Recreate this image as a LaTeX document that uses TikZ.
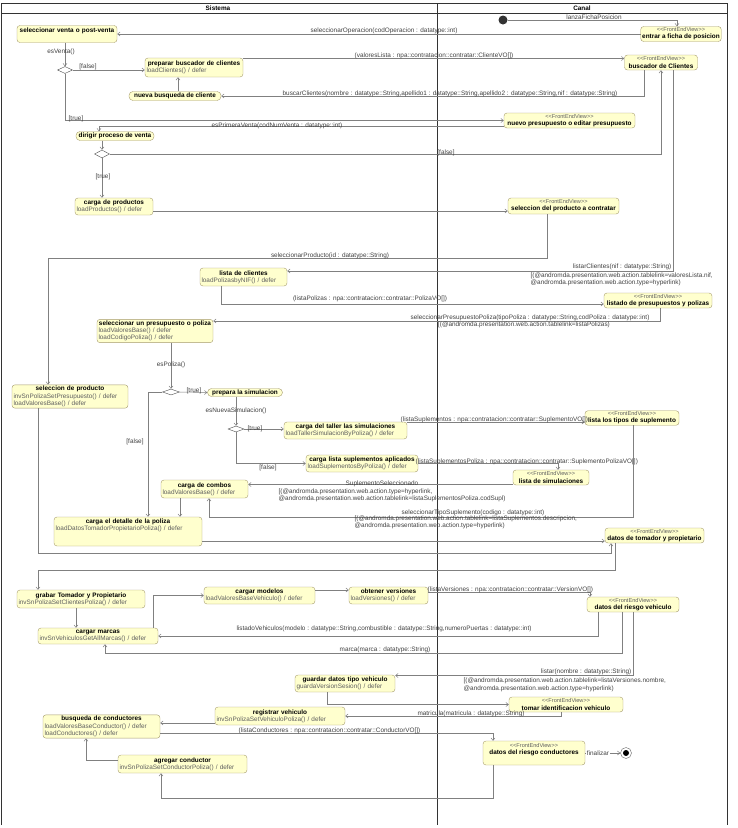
\documentclass[tikz,border=0pt]{standalone}
\usepackage{fontspec}
\newfontfamily\umlfont{Liberation Sans}
\usetikzlibrary{shapes.geometric,arrows.meta}
\definecolor{boxfill}{RGB}{255,255,206}
\definecolor{boxline}{RGB}{165,155,110}
\definecolor{linegray}{RGB}{128,128,128}
\definecolor{optext}{RGB}{95,95,95}
\begin{document}
\begin{tikzpicture}[x=1pt,y=-1pt,
  every node/.style={font=\umlfont\fontsize{6.4}{7.2}\selectfont},
  accion/.style={draw=boxline,fill=boxfill,rounded corners=3pt,inner sep=1.5pt},
  pill/.style={accion,rounded corners=4pt,inner ysep=1pt,font=\umlfont\bfseries\fontsize{6.4}{7.2}\selectfont},
  vista/.style={accion,align=center,inner ysep=1pt},
  decision/.style={diamond,draw=black!70,fill=white,inner sep=0pt},
  inicio/.style={circle,fill=black!80,minimum size=9pt,inner sep=0pt},
  fin/.style={circle,draw=black!60,fill=white,minimum size=11pt,inner sep=0pt,
    path picture={\fill[black] (path picture bounding box.center) circle (3pt);}},
  flow/.style={draw=linegray,line width=0.5pt,-{Straight Barb[length=2.5pt,width=4pt]}},
  lbl/.style={text=black!75,inner sep=0.5pt},
  lane/.style={draw=black!80,line width=0.9pt}]
\useasboundingbox (0,0) rectangle (737,828);
\newcommand\accion[6]{
\node[accion,text width=#3pt,minimum height=#4pt] (#1) at (#2) {{\centering\bfseries #5\par}\raggedright\color{optext}#6};
}
\newcommand\vista[5]{
\node[vista,minimum width=#3pt,minimum height=#4pt] (#1) at (#2) {{\fontsize{5.6}{6}\selectfont\color{optext}<<FrontEndView>>}\\\textbf{#5}};
}
% calles
\path[lane] (1.5,825) -- (1.5,3) -- (727,3) -- (727,825);
\path[lane] (437,3) -- (437,825);
\path[lane] (1.5,13) -- (727,13);
\node[font=\umlfont\bfseries\fontsize{6.4}{7}\selectfont] (sistema) at (218,8) {Sistema};
\node[font=\umlfont\bfseries\fontsize{6.4}{7}\selectfont] (canal) at (582,8) {Canal};
% Sistema
\accion{venta}{67,34}{97}{17}{seleccionar venta o post-venta}{\mbox{}}
\accion{prepbus}{194,67.5}{95}{19}{preparar buscador de clientes}{loadClientes() / defer}
\node[pill,minimum width=92pt,minimum height=9pt] (nuevabus) at (175,96) {nueva busqueda de cliente};
\node[pill,minimum width=78pt,minimum height=9pt] (dirigir) at (115,136) {dirigir proceso de venta};
\accion{productos}{114,206.5}{75}{17}{carga de productos}{loadProductos() / defer}
\accion{listacli}{243.5,277}{84}{18}{lista de clientes}{loadPolizasbyNIF() / defer}
\accion{selpres}{155,331}{113}{22}{seleccionar un presupuesto o poliza}{loadValoresBase() / defer\par loadCodigoPoliza() / defer}
\accion{selprod}{70,396.5}{113}{23}{seleccion de producto}{invSnPolizaSetPresupuesto() / defer\par loadValoresBase() / defer}
\node[pill,minimum width=75pt,minimum height=8pt] (prepsim) at (245,392.5) {prepara la simulacion};
\accion{taller}{345.5,430.5}{120}{17}{carga del taller las simulaciones}{loadTallerSimulacionByPoliza() / defer}
\accion{suplem}{362,463.5}{109}{17}{carga lista suplementos aplicados}{loadSuplementosByPoliza() / defer}
\accion{combos}{204.5,489}{84}{18}{carga de combos}{loadValoresBase() / defer}
\accion{detalle}{128,531.5}{145}{29}{carga el detalle de la poliza}{loadDatosTomadorPropietarioPoliza() / defer\rule[-13pt]{0pt}{13pt}}
\accion{grabar}{81,599}{125}{18}{grabar Tomador y Propietario}{invSnPolizaSetClientesPoliza() / defer}
\accion{marcas}{98,636}{117}{16}{cargar marcas}{invSnVehiculosGetAllMarcas() / defer}
\accion{modelos}{259.5,595.5}{108}{17}{cargar modelos}{loadValoresBaseVehiculo() / defer}
\accion{versiones}{388.5,595.5}{76}{17}{obtener versiones}{loadVersiones() / defer}
\accion{guardar}{345,683.5}{97}{17}{guardar datos tipo vehiculo}{guardaVersionSesion() / defer}
\accion{registrar}{280,716}{127}{18}{registrar vehiculo}{invSnPolizaSetVehiculoPoliza() / defer}
\accion{conduct}{101.5,726.5}{114}{23}{busqueda de conductores}{loadValoresBaseConductor() / defer\par loadConductores() / defer}
\accion{agregar}{182.5,764}{126}{18}{agregar conductor}{invSnPolizaSetConductorPoliza() / defer}
\node[decision,minimum width=15pt,minimum height=7pt] (d1) at (65,70) {};
\node[decision,minimum width=15pt,minimum height=8pt] (d2) at (102,154) {};
\node[decision,minimum width=17pt,minimum height=6pt] (d3) at (171,392) {};
\node[decision,minimum width=16pt,minimum height=6pt] (d4) at (236,429) {};
% Canal
\node[inicio] (init) at (503,20) {};
\vista{ficha}{681,34}{80}{15}{entrar a ficha de posicion}
\vista{buscador}{661,62.5}{73}{15}{buscador de Clientes}
\vista{nuevopres}{569.5,120.5}{131}{15}{nuevo presupuesto o editar presupuesto}
\vista{selcontr}{563.5,206}{111}{16}{seleccion del producto a contratar}
\vista{listado}{658,300.5}{108}{15}{listado de presupuestos y polizas}
\vista{tipos}{632,418}{94}{14}{lista los tipos de suplemento}
\vista{simul}{551,477.5}{76}{15}{lista de simulaciones}
\vista{tomador}{654.5,535.5}{99}{15}{datos de tomador y propietario}
\vista{riesgoveh}{633,604.5}{92}{15}{datos del riesgo vehiculo}
\vista{tomar}{566,704.5}{114}{15}{tomar identificacion vehiculo}
\node[vista,minimum width=102pt,minimum height=24pt] (riesgocon) at (534,753) {{\fontsize{5.6}{6}\selectfont\color{optext}<<FrontEndView>>}\\\textbf{datos del riesgo conductores}\rule[-8pt]{0pt}{8pt}};
\node[fin] (fin) at (626,753) {};
% transiciones
\path[flow] (init) -| ([xshift=-4pt]ficha.north);
\node[lbl] (lb1) at (594,17.5) {lanzaFichaPosicion};
\path[flow] (ficha.west) -- (venta.east);
\node[lbl] (lb2) at (384,30.5) {seleccionarOperacion(codOperacion : datatype::int)};
\path[flow] (venta.south -| d1) -- (d1.north);
\node[lbl] (lb3) at (61,52) {esVenta()};
\path[flow] (d1.east) -- (d1.east -| prepbus.west);
\node[lbl] (lb4) at (88,66.5) {[false]};
\path[flow] ([xshift=3pt]nuevabus.north) -- ([xshift=3pt]nuevabus.north |- prepbus.south);
\path[flow] ([yshift=9pt]prepbus.east) -- ([yshift=9pt]prepbus.east -| buscador.west);
\node[lbl] (lb5) at (434,56) {(valoresLista : npa::contratacion::contratar::ClienteVO[])};
\path[flow] ([xshift=-17pt]buscador.south) |- (nuevabus.east);
\node[lbl] (lb6) at (450,93.5) {buscarClientes(nombre : datatype::String,apellido1 : datatype::String,apellido2 : datatype::String,nif : datatype::String)};
\path[flow] (d1.south) |- (nuevopres.west);
\node[lbl] (lb7) at (76,118.5) {[true]};
\path[flow] ([yshift=-6pt]nuevopres.west) -| ([xshift=-16pt]dirigir.north);
\node[lbl] (lb8) at (277,125.5) {esPrimeraVenta(codNumVenta : datatype::int)};
\path[flow] (dirigir.south -| d2) -- (d2.north);
\path[flow] (d2.east) -| (buscador.south);
\node[lbl] (lb9) at (446,152.5) {[false]};
\path[flow] (d2.south) -- (d2.south |- productos.north);
\node[lbl] (lb10) at (103,177) {[true]};
\path[flow] ([yshift=-4.5pt]productos.east) -- ([yshift=-4.5pt]productos.east -| selcontr.west);
\coordinate (c1) at (48,258);
\path[flow] ([xshift=-16.5pt]selcontr.south) |- (c1) -- (c1 |- selprod.north);
\node[lbl] (lb11) at (330,255.5) {seleccionarProducto(id : datatype::String)};
\path[flow] ([xshift=12pt]buscador.south) |- ([yshift=6pt]listacli.east);
\node[lbl,anchor=east] (lb12) at (672,266.5) {listarClientes(nif : datatype::String)};
\node[lbl,anchor=north west,align=left] (lb13) at (530,272) {[(@andromda.presentation.web.action.tablelink=valoresLista.nif,\\@andromda.presentation.web.action.type=hyperlink)};
\path[flow] ([xshift=-22.5pt]listacli.south) |- ([yshift=-3.5pt]listado.west);
\node[lbl] (lb14) at (370,298.5) {(listaPolizas : npa::contratacion::contratar::PolizaVO[])};
\path[flow] ([xshift=2pt]listado.south) |- ([yshift=10pt]selpres.east);
\node[lbl] (lb15) at (530,317.5) {seleccionarPresupuestoPoliza(tipoPoliza : datatype::String,codPoliza : datatype::int)};
\node[lbl] (lb16) at (524,325) {[(@andromda.presentation.web.action.tablelink=listaPolizas)};
\path[flow] ([xshift=16pt]selpres.south) -- (d3.north);
\node[lbl] (lb17) at (171,365) {esPoliza()};
\path[flow] (d3.east) -- (prepsim.west);
\node[lbl] (lb18) at (194,391) {[true]};
\path[flow] (d3.west) -| ([xshift=20pt]detalle.north);
\node[lbl] (lb19) at (135,442) {[false]};
\path[flow] ([xshift=-9pt]prepsim.south) -- (d4.north);
\node[lbl] (lb20) at (236,410.5) {esNuevaSimulacion()};
\path[flow] (d4.east) -- (d4.east -| taller.west);
\node[lbl] (lb21) at (255,428.5) {[true]};
\path[flow] (d4.south) |- (suplem.west);
\node[lbl] (lb22) at (268,468) {[false]};
\path[flow] ([yshift=8.5pt]taller.east) -- ([yshift=8.5pt]taller.east -| tipos.west);
\node[lbl,anchor=west] (lb23) at (400,420) {(listaSuplementos : npa::contratacion::contratar::SuplementoVO[])};
\path[flow] (suplem.east) -| ([xshift=7pt]simul.north);
\node[lbl,anchor=west] (lb24) at (415,461.5) {(listaSuplementosPoliza : npa::contratacion::contratar::SuplementoPolizaVO[])};
\path[flow] ([yshift=-7pt]simul.west) -- ([yshift=-7pt]simul.west -| combos.east);
\node[lbl] (lb25) at (382,484) {SuplementoSeleccionado};
\node[lbl,anchor=north west,align=left] (lb26) at (278,488) {[(@andromda.presentation.web.action.type=hyperlink,\\@andromda.presentation.web.action.tablelink=listaSuplementosPoliza.codSupl)};
\coordinate (c2) at (209,517);
\path[flow] ([xshift=1pt]tipos.south) |- (c2) -- (c2 |- combos.south);
\node[lbl] (lb27) at (473,512.5) {seleccionarTipoSuplemento(codigo : datatype::int)};
\node[lbl,anchor=north west,align=left] (lb28) at (354,515) {[(@andromda.presentation.web.action.tablelink=listaSuplementos.descripcion,\\@andromda.presentation.web.action.type=hyperlink)};
\path[flow] ([xshift=-24.5pt]combos.south) -- ([xshift=-24.5pt]combos.south |- detalle.north);
\path[flow] ([yshift=-9.5pt]detalle.east) -- ([yshift=-9.5pt]detalle.east -| tomador.west);
\coordinate (c3) at (611,553);
\path[flow] ([xshift=-32pt]selprod.south) |- (c3) -- (c3 |- tomador.south);
\coordinate (c4) at (38,570);
\path[flow] ([xshift=-39.5pt]tomador.south) |- (c4) -- (c4 |- grabar.north);
\path[flow] ([xshift=-5pt]grabar.south) -- ([xshift=-5pt]grabar.south |- marcas.north);
\path[flow] ([xshift=55pt]marcas.north) |- (modelos.west);
\path[flow] ([yshift=5.5pt]modelos.east) -- ([yshift=5.5pt]modelos.east -| versiones.west);
\path[flow] ([yshift=3.5pt]versiones.east) -| ([xshift=-43pt]riesgoveh.north);
\node[lbl,anchor=west] (lb29) at (427,590) {(listaVersiones : npa::contratacion::contratar::VersionVO[])};
\path[flow] ([xshift=-35pt]riesgoveh.south) |- (marcas.east);
\node[lbl] (lb30) at (384,629) {listadoVehiculos(modelo : datatype::String,combustible : datatype::String,numeroPuertas : datatype::int)};
\coordinate (c5) at (105,653);
\path[flow] ([xshift=-11pt]riesgoveh.south) |- (c5) -- (c5 |- marcas.south);
\node[lbl] (lb31) at (385,649.5) {marca(marca : datatype::String)};
\path[flow] (riesgoveh.south) |- ([yshift=8pt]guardar.east);
\node[lbl,anchor=east] (lb32) at (632,672) {listar(nombre : datatype::String)};
\node[lbl,anchor=north west,align=left] (lb33) at (463,677.5) {[(@andromda.presentation.web.action.tablelink=listaVersiones.nombre,\\@andromda.presentation.web.action.type=hyperlink)};
\path[flow] ([xshift=-18pt]guardar.south) |- (tomar.west);
\path[flow] ([xshift=-5pt]tomar.south) |- (registrar.east);
\node[lbl] (lb34) at (471,713.5) {matricula(matricula : datatype::String)};
\path[flow] ([yshift=-7pt]registrar.west) -- ([yshift=-7pt]registrar.west -| conduct.east);
\path[flow] ([yshift=-6.5pt]conduct.east) -| ([xshift=-41pt]riesgocon.north);
\node[lbl,anchor=west] (lb35) at (238,731) {(listaConductores : npa::contratacion::contratar::ConductorVO[])};
\path[flow] (riesgocon.east) -- (fin);
\node[lbl,fill=white] (lb36) at (598,753) {finalizar};
\coordinate (c6) at (161,798);
\path[flow] ([xshift=-41pt]riesgocon.south) |- (c6) -- (c6 |- agregar.south);
\path[flow] ([yshift=4pt]agregar.west) -| ([xshift=-15.5pt]conduct.south);
\end{tikzpicture}
\end{document}
